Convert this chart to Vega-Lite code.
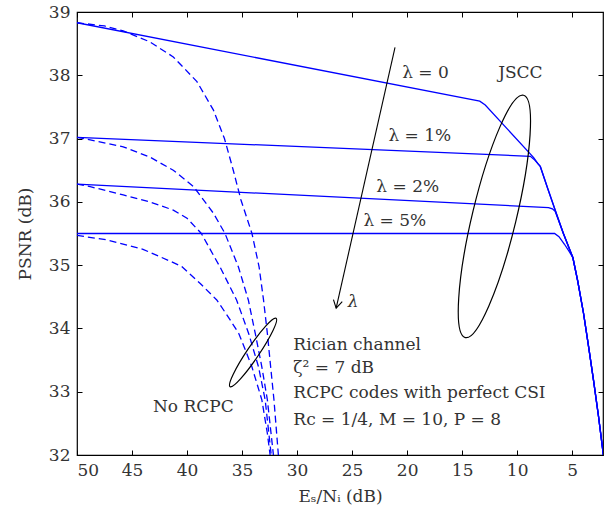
{
  "$schema": "https://vega.github.io/schema/vega-lite/v6.json",
  "width": 526,
  "height": 443,
  "autosize": {"type": "none"},
  "padding": {"left": 77, "top": 12, "right": 3, "bottom": 56},
  "background": "white",
  "config": {
    "font": "DejaVu Serif",
    "view": {"stroke": "#000", "strokeWidth": 1.2},
    "axis": {
      "grid": false, "domain": false, "tickColor": "#000", "tickSize": -5, "tickWidth": 1,
      "labelFontSize": 17, "labelColor": "#333", "labelFont": "DejaVu Serif",
      "titleFontSize": 17, "titleColor": "#333", "titleFontWeight": "normal", "titleFont": "DejaVu Serif"
    }
  },
  "datasets": {
    "jscc": [
      {"s": "l0", "x": 50, "y": 38.83}, {"s": "l0", "x": 13.4, "y": 37.59}, {"s": "l0", "x": 12.9, "y": 37.53},
      {"s": "l0", "x": 8.5, "y": 36.7}, {"s": "l0", "x": 8.1, "y": 36.6}, {"s": "l0", "x": 7.9, "y": 36.56},
      {"s": "l0", "x": 7.2, "y": 36.2}, {"s": "l0", "x": 6.55, "y": 35.87}, {"s": "l0", "x": 5.8, "y": 35.5},
      {"s": "l0", "x": 4.94, "y": 35.12}, {"s": "l0", "x": 4.5, "y": 34.75}, {"s": "l0", "x": 3.97, "y": 34.24},
      {"s": "l0", "x": 3.5, "y": 33.7}, {"s": "l0", "x": 3.06, "y": 33.18}, {"s": "l0", "x": 2.6, "y": 32.6},
      {"s": "l0", "x": 2.2, "y": 32.05}, {"s": "l0", "x": 2.0, "y": 31.75},
      {"s": "l1", "x": 50, "y": 37.02}, {"s": "l1", "x": 8.8, "y": 36.72}, {"s": "l1", "x": 8.4, "y": 36.66},
      {"s": "l1", "x": 7.9, "y": 36.56}, {"s": "l1", "x": 7.2, "y": 36.2}, {"s": "l1", "x": 6.55, "y": 35.87},
      {"s": "l1", "x": 5.8, "y": 35.5}, {"s": "l1", "x": 4.94, "y": 35.12}, {"s": "l1", "x": 4.5, "y": 34.75},
      {"s": "l1", "x": 3.97, "y": 34.24}, {"s": "l1", "x": 3.5, "y": 33.7}, {"s": "l1", "x": 3.06, "y": 33.18},
      {"s": "l1", "x": 2.6, "y": 32.6}, {"s": "l1", "x": 2.2, "y": 32.05}, {"s": "l1", "x": 2.0, "y": 31.75},
      {"s": "l2", "x": 50, "y": 36.28}, {"s": "l2", "x": 7.15, "y": 35.91}, {"s": "l2", "x": 6.8, "y": 35.89},
      {"s": "l2", "x": 6.55, "y": 35.85}, {"s": "l2", "x": 5.8, "y": 35.5}, {"s": "l2", "x": 4.94, "y": 35.12},
      {"s": "l2", "x": 4.5, "y": 34.75}, {"s": "l2", "x": 3.97, "y": 34.24}, {"s": "l2", "x": 3.5, "y": 33.7},
      {"s": "l2", "x": 3.06, "y": 33.18}, {"s": "l2", "x": 2.6, "y": 32.6}, {"s": "l2", "x": 2.2, "y": 32.05},
      {"s": "l2", "x": 2.0, "y": 31.75},
      {"s": "l3", "x": 50, "y": 35.5}, {"s": "l3", "x": 6.6, "y": 35.5}, {"s": "l3", "x": 6.2, "y": 35.45},
      {"s": "l3", "x": 5.7, "y": 35.33}, {"s": "l3", "x": 5.25, "y": 35.21}, {"s": "l3", "x": 4.94, "y": 35.12},
      {"s": "l3", "x": 4.5, "y": 34.75}, {"s": "l3", "x": 3.97, "y": 34.24}, {"s": "l3", "x": 3.5, "y": 33.7},
      {"s": "l3", "x": 3.06, "y": 33.18}, {"s": "l3", "x": 2.6, "y": 32.6}, {"s": "l3", "x": 2.2, "y": 32.05},
      {"s": "l3", "x": 2.0, "y": 31.75}
    ],
    "norcpc": [
      {"s": "d0", "x": 50, "y": 38.83}, {"s": "d0", "x": 47.5, "y": 38.78}, {"s": "d0", "x": 45.8, "y": 38.7},
      {"s": "d0", "x": 43.4, "y": 38.53}, {"s": "d0", "x": 41.25, "y": 38.29}, {"s": "d0", "x": 39.1, "y": 37.9},
      {"s": "d0", "x": 37.6, "y": 37.45}, {"s": "d0", "x": 36.6, "y": 37.0}, {"s": "d0", "x": 35.8, "y": 36.5},
      {"s": "d0", "x": 35.1, "y": 36.03}, {"s": "d0", "x": 34.1, "y": 35.5}, {"s": "d0", "x": 33.45, "y": 34.97},
      {"s": "d0", "x": 33.05, "y": 34.45}, {"s": "d0", "x": 32.7, "y": 33.92}, {"s": "d0", "x": 32.4, "y": 33.39},
      {"s": "d0", "x": 32.1, "y": 32.87}, {"s": "d0", "x": 31.7, "y": 32.0}, {"s": "d0", "x": 31.6, "y": 31.8},
      {"s": "d1", "x": 50, "y": 37.02}, {"s": "d1", "x": 48.8, "y": 36.98}, {"s": "d1", "x": 45.8, "y": 36.87},
      {"s": "d1", "x": 43.4, "y": 36.71}, {"s": "d1", "x": 41.25, "y": 36.5}, {"s": "d1", "x": 39.4, "y": 36.24},
      {"s": "d1", "x": 37.6, "y": 35.82}, {"s": "d1", "x": 36.55, "y": 35.5}, {"s": "d1", "x": 35.33, "y": 34.97},
      {"s": "d1", "x": 34.43, "y": 34.45}, {"s": "d1", "x": 33.8, "y": 33.92}, {"s": "d1", "x": 33.2, "y": 33.39},
      {"s": "d1", "x": 32.7, "y": 32.87}, {"s": "d1", "x": 32.15, "y": 32.0}, {"s": "d1", "x": 32.05, "y": 31.8},
      {"s": "d2", "x": 50, "y": 36.28}, {"s": "d2", "x": 48.8, "y": 36.24}, {"s": "d2", "x": 45.8, "y": 36.11},
      {"s": "d2", "x": 43.4, "y": 36.0}, {"s": "d2", "x": 41.25, "y": 35.87}, {"s": "d2", "x": 40.0, "y": 35.74},
      {"s": "d2", "x": 38.7, "y": 35.5}, {"s": "d2", "x": 37.0, "y": 34.97}, {"s": "d2", "x": 35.5, "y": 34.45},
      {"s": "d2", "x": 34.4, "y": 33.92}, {"s": "d2", "x": 33.5, "y": 33.39}, {"s": "d2", "x": 32.9, "y": 32.87},
      {"s": "d2", "x": 32.35, "y": 32.0}, {"s": "d2", "x": 32.25, "y": 31.8},
      {"s": "d3", "x": 50, "y": 35.47}, {"s": "d3", "x": 47.3, "y": 35.4}, {"s": "d3", "x": 44.0, "y": 35.25},
      {"s": "d3", "x": 41.5, "y": 35.06}, {"s": "d3", "x": 40.5, "y": 34.98}, {"s": "d3", "x": 38.8, "y": 34.71},
      {"s": "d3", "x": 37.3, "y": 34.45}, {"s": "d3", "x": 36.25, "y": 34.18}, {"s": "d3", "x": 35.3, "y": 33.92},
      {"s": "d3", "x": 34.7, "y": 33.66}, {"s": "d3", "x": 34.1, "y": 33.39}, {"s": "d3", "x": 33.2, "y": 32.87},
      {"s": "d3", "x": 32.7, "y": 32.34}, {"s": "d3", "x": 32.45, "y": 32.0}, {"s": "d3", "x": 32.35, "y": 31.8}
    ],
    "arrow": [{"x": 21.1, "y": 38.44}, {"x": 26.45, "y": 34.32}],
    "arrowhead": [{"x": 26.45, "y": 34.32}],
    "ellipse1": [{"x": 12.07, "y": 35.77}],
    "ellipse2": [{"x": 34.0, "y": 33.62}],
    "labels": [
      {"x": 20.45, "y": 38.04, "t": "λ = 0"},
      {"x": 11.73, "y": 38.04, "t": "JSCC"},
      {"x": 21.7, "y": 37.04, "t": "λ = 1%"},
      {"x": 22.8, "y": 36.24, "t": "λ = 2%"},
      {"x": 23.97, "y": 35.69, "t": "λ = 5%"},
      {"x": 30.34, "y": 33.74, "t": "Rician channel"},
      {"x": 30.34, "y": 33.37, "t": "ζ² = 7 dB"},
      {"x": 30.34, "y": 32.98, "t": "RCPC codes with perfect CSI"},
      {"x": 30.34, "y": 32.55, "t": "Rc = 1/4, M = 10, P = 8"},
      {"x": 43.1, "y": 32.76, "t": "No RCPC"}
    ],
    "lambda": [{"x": 25.4, "y": 34.42, "t": "λ"}]
  },
  "resolve": {"axis": {"x": "independent", "y": "independent"}},
  "layer": [
    {
      "data": {"name": "jscc"},
      "mark": {"type": "line", "color": "#0000ff", "strokeWidth": 1.3, "clip": true},
      "encoding": {
        "x": {"field": "x", "type": "quantitative",
              "scale": {"domain": [50, 2.2], "nice": false, "zero": false},
              "axis": {"orient": "bottom", "values": [50, 45, 40, 35, 30, 25, 20, 15, 10, 5], "title": "Eₛ/Nᵢ (dB)", "labelPadding": 12, "titlePadding": 10}},
        "y": {"field": "y", "type": "quantitative",
              "scale": {"domain": [32, 39], "nice": false, "zero": false},
              "axis": {"orient": "left", "values": [32, 33, 34, 35, 36, 37, 38, 39], "title": "PSNR (dB)", "labelPadding": 12, "titlePadding": 14}},
        "detail": {"field": "s"}
      }
    },
    {
      "data": {"name": "norcpc"},
      "mark": {"type": "line", "color": "#0000ff", "strokeWidth": 1.3, "strokeDash": [7, 4], "clip": true},
      "encoding": {
        "x": {"field": "x", "type": "quantitative",
              "axis": {"orient": "top", "values": [50, 45, 40, 35, 30, 25, 20, 15, 10, 5], "labels": false, "title": null}},
        "y": {"field": "y", "type": "quantitative",
              "axis": {"orient": "right", "values": [32, 33, 34, 35, 36, 37, 38, 39], "labels": false, "title": null}},
        "detail": {"field": "s"}
      }
    },
    {
      "data": {"name": "arrow"},
      "mark": {"type": "line", "color": "#000", "strokeWidth": 1.1},
      "encoding": {
        "x": {"field": "x", "type": "quantitative", "axis": null},
        "y": {"field": "y", "type": "quantitative", "axis": null}
      }
    },
    {
      "data": {"name": "arrowhead"},
      "mark": {"type": "point", "shape": "M -2.7 -8.6 L 0 0 L 6.1 -6.6", "size": 4, "filled": false, "color": "#000", "strokeWidth": 1.1, "opacity": 1},
      "encoding": {
        "x": {"field": "x", "type": "quantitative", "axis": null},
        "y": {"field": "y", "type": "quantitative", "axis": null}
      }
    },
    {
      "data": {"name": "ellipse1"},
      "mark": {"type": "point", "shape": "M -29.15 121.15 A 124.6 22 -76.5 0 1 29.15 -121.15 A 124.6 22 -76.5 0 1 -29.15 121.15 Z", "size": 4, "filled": false, "color": "#000", "strokeWidth": 1.2, "opacity": 1},
      "encoding": {
        "x": {"field": "x", "type": "quantitative", "axis": null},
        "y": {"field": "y", "type": "quantitative", "axis": null}
      }
    },
    {
      "data": {"name": "ellipse2"},
      "mark": {"type": "point", "shape": "M -23 34.2 A 41.2 6 -56 0 1 23 -34.2 A 41.2 6 -56 0 1 -23 34.2 Z", "size": 4, "filled": false, "color": "#000", "strokeWidth": 1.2, "opacity": 1},
      "encoding": {
        "x": {"field": "x", "type": "quantitative", "axis": null},
        "y": {"field": "y", "type": "quantitative", "axis": null}
      }
    },
    {
      "data": {"name": "labels"},
      "mark": {"type": "text", "align": "left", "baseline": "middle", "fontSize": 17, "font": "DejaVu Serif", "color": "#333"},
      "encoding": {
        "x": {"field": "x", "type": "quantitative", "axis": null},
        "y": {"field": "y", "type": "quantitative", "axis": null},
        "text": {"field": "t"}
      }
    },
    {
      "data": {"name": "lambda"},
      "mark": {"type": "text", "align": "left", "baseline": "middle", "fontSize": 17, "font": "DejaVu Serif", "fontStyle": "italic", "color": "#333"},
      "encoding": {
        "x": {"field": "x", "type": "quantitative", "axis": null},
        "y": {"field": "y", "type": "quantitative", "axis": null},
        "text": {"field": "t"}
      }
    }
  ]
}
